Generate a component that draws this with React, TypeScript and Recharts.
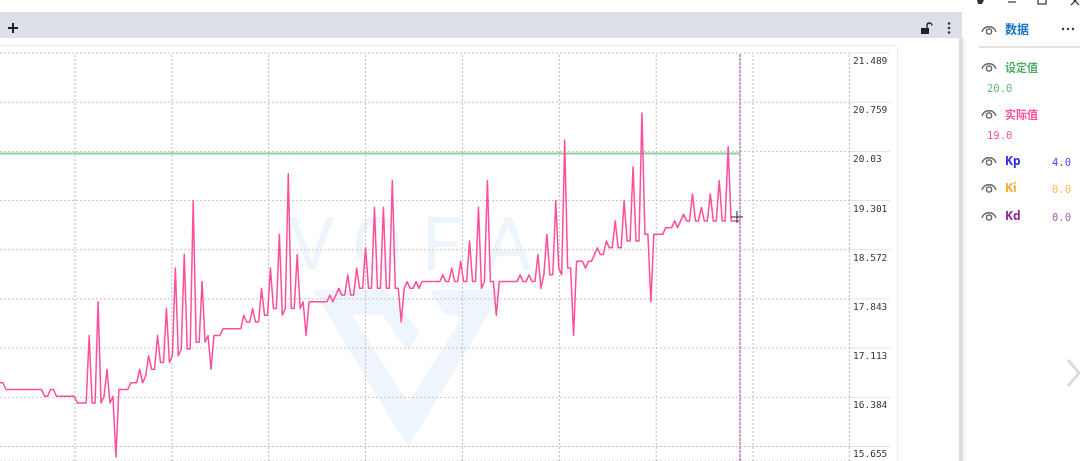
import { LineChart, Line, XAxis, YAxis, CartesianGrid, ReferenceLine } from 'recharts'

const actualValues = [
  16.6, 16.6, 16.5, 16.5, 16.5, 16.5, 16.5, 16.5, 16.5, 16.5, 16.5, 16.5, 16.5, 16.5, 16.5,
  16.4, 16.4, 16.5, 16.5, 16.4, 16.4, 16.4, 16.4, 16.4, 16.4, 16.4, 16.3, 16.3, 16.3, 16.3,
  17.3, 16.3, 16.3, 17.8, 16.3, 16.4, 16.8, 16.3, 16.4, 15.5,
  16.5, 16.5, 16.5, 16.5, 16.6, 16.6, 16.6,
  16.8, 16.6, 16.7, 17.0, 16.8, 16.8, 17.3, 16.9, 16.9, 17.7, 16.9, 17.0, 18.3, 17.0, 17.1,
  18.5, 17.1, 17.1, 19.3, 17.2, 17.2, 18.1, 17.2, 17.3, 16.8, 17.3, 17.3, 17.3,
  17.4, 17.4, 17.4, 17.4, 17.4, 17.4, 17.4,
  17.6, 17.5, 17.5, 17.7, 17.5, 17.5, 18.0, 17.6, 17.6, 18.3,
  17.7, 17.7, 18.8, 17.6, 17.7, 19.7, 17.7, 17.7, 18.5, 17.7, 17.8, 17.3, 17.8,
  17.8, 17.8, 17.8, 17.8, 17.8, 17.8,
  17.9, 17.8, 17.9, 18.0, 17.9, 17.9, 18.2, 17.9, 17.9, 18.3, 18.0, 18.0, 18.6, 18.0, 18.0,
  19.2, 18.0, 18.0, 19.2, 18.0, 18.0, 19.6, 18.0, 18.0, 17.5, 18.0, 18.1, 18.0, 18.0, 18.1, 18.0, 18.1,
  18.1, 18.1, 18.1, 18.1, 18.1, 18.1,
  18.2, 18.1, 18.1, 18.3, 18.1, 18.1, 18.4, 18.1, 18.1, 18.7, 18.1, 18.1, 19.2, 18.0, 18.1,
  19.6, 18.1, 18.1, 17.6, 18.1,
  18.1, 18.1, 18.1, 18.1, 18.1, 18.1,
  18.2, 18.1, 18.1, 18.2, 18.1, 18.1, 18.5, 18.0, 18.2, 18.8, 18.2, 18.2, 19.3, 18.3, 18.2,
  20.2, 18.3, 18.3, 17.3, 18.4, 18.4, 18.4, 18.3, 18.4, 18.4, 18.5, 18.6, 18.5, 18.5, 18.7,
  18.6, 18.6, 19.0, 18.6, 18.6, 19.3, 18.7, 18.7, 19.8, 18.7, 18.7, 20.6, 18.8, 18.8, 17.8,
  18.8, 18.8, 18.8, 18.8, 18.9, 18.9, 18.9, 19.0, 18.9, 19.0, 19.1, 19.0, 19.0, 19.4, 19.0,
  19.0, 19.2, 19.0, 19.0, 19.4, 19.0, 19.0, 19.6, 19.0, 19.0, 20.1, 19.0, 19.0, 19.0, 19.0,
]
const setpoint = 20
const yTicks = [21.489, 20.759, 20.03, 19.301, 18.572, 17.843, 17.113, 16.384, 15.655]
const yTickLabels = ['21.489', '20.759', '20.03', '19.301', '18.572', '17.843', '17.113', '16.384', '15.655']
const xTicks = [25.2, 57.8, 90.4, 123, 155.6, 188.2, 220.8, 253.4, 285.8]
const cursorIndex = 249

const data = actualValues.map((actual, i) => ({ i, actual, setpoint }))

const mono = '"DejaVu Sans Mono", monospace'
const cjk = '"Noto Sans CJK SC", "Noto Sans", sans-serif'

function YTick({ x, y, index }: any) {
  return (
    <g>
      <line x1={x} x2={x + 40} y1={y} y2={y} stroke="#e2e2e2" />
      <text x={x + 3} y={y + 11} fontFamily={mono} fontSize={9.5} fontWeight={500} fill="#333">
        {yTickLabels[index]}
      </text>
    </g>
  )
}

function Eye({ x, y }: { x: number; y: number }) {
  return (
    <svg style={{ position: 'absolute', left: x - 8, top: y - 6 }} width={16} height={12} viewBox="0 0 16 12">
      <path d="M1 8 C3 1 13 1 15 8" fill="none" stroke="#666" strokeWidth={1.3} />
      <circle cx={8} cy={7.5} r={2.6} fill="none" stroke="#666" strokeWidth={1.3} />
    </svg>
  )
}

function Label({ x, y, color, children, font = cjk, size = 12, weight = 700 }: any) {
  return (
    <div style={{ position: 'absolute', left: x, top: y, transform: 'translateY(-50%)', color, fontFamily: font, fontSize: size, fontWeight: weight, lineHeight: 1, whiteSpace: 'nowrap' }}>
      {children}
    </div>
  )
}

function Watermark() {
  const letters = [['V', 288], ['O', 352], ['F', 422], ['A', 484]] as const
  return (
    <svg style={{ position: 'absolute', left: 0, top: 0 }} width={898} height={461}>
      {letters.map(([c, x]) => (
        <text key={c} x={x} y={270} fontFamily="Roboto" fontWeight={400} fontSize={74} fill="#edf4fc">{c}</text>
      ))}
      <path
        d="M313 290 L386 290 L420 333 L408 352 L383 315 L352 315 L408 403 L462 318 L443 313 L430 290 L503 290 L408 447 Z"
        fill="#eff5fc"
      />
    </svg>
  )
}

export default function App() {
  return (
    <div style={{ position: 'relative', width: 1080, height: 461, overflow: 'hidden', background: '#fff', filter: 'blur(0.35px)' }}>
      <style>{'body{margin:0}'}</style>

      {/* toolbar */}
      <div style={{ position: 'absolute', left: 0, top: 12, width: 962, height: 26, background: '#dde0e6' }} />
      <svg style={{ position: 'absolute', left: 0, top: 12 }} width={962} height={26}>
        <path d="M13 11 V21 M8 16 H18" stroke="#222" strokeWidth={2} />
        <rect x={921} y={16} width={8} height={6} fill="#222" />
        <path d="M927 16 V13.5 a2.5 2.5 0 0 1 5 0" fill="none" stroke="#222" strokeWidth={1.3} />
        <circle cx={949} cy={11.5} r={1.3} fill="#333" />
        <circle cx={949} cy={16} r={1.3} fill="#333" />
        <circle cx={949} cy={20.5} r={1.3} fill="#333" />
      </svg>

      {/* card */}
      <div style={{ position: 'absolute', left: -10, top: 45, width: 908, height: 440, border: '1px solid #ececec', borderRadius: 4, boxSizing: 'border-box' }} />
      <Watermark />

      <div style={{ position: 'absolute', left: 0, top: 0 }}>
        <LineChart width={898} height={461} data={data} margin={{ top: 53, right: 0, bottom: 0, left: 0 }}>
          <CartesianGrid stroke="#c4c4c4" strokeDasharray="2 2" vertical={false} />
          <XAxis dataKey="i" type="number" domain={[0, 286]} ticks={xTicks} tick={false} axisLine={false} tickLine={false} height={0} />
          <YAxis
            orientation="right"
            width={48}
            type="number"
            domain={[15.44, 21.489]}
            ticks={yTicks}
            allowDataOverflow
            interval={0}
            axisLine={false}
            tickLine={false}
            tickSize={0}
            tickMargin={0}
            tick={<YTick />}
          />
          {xTicks.map((t) => (
            <ReferenceLine key={t} x={t} stroke="#bdbdbd" strokeDasharray="2 2" />
          ))}
          <ReferenceLine x={cursorIndex} stroke="#b77cc0" strokeWidth={1.5} strokeDasharray="3 1" />
          <Line dataKey="setpoint" type="linear" stroke="#8fd0a0" strokeWidth={2} dot={false} isAnimationActive={false} />
          <Line dataKey="actual" type="linear" stroke="#ff4f9c" strokeWidth={1.5} strokeLinejoin="round" dot={false} isAnimationActive={false} />
        </LineChart>
      </div>

      {/* mouse cross */}
      <svg style={{ position: 'absolute', left: 730, top: 210 }} width={14} height={14}>
        <path d="M7 1 V13 M1 7 H13" stroke="#222" strokeWidth={1} />
      </svg>

      {/* scrollbar */}
      <div style={{ position: 'absolute', left: 959, top: 38, width: 4, height: 423, background: '#dedede' }} />
      <div style={{ position: 'absolute', left: 963, top: 38, width: 3, height: 423, background: '#f6f6f6' }} />

      {/* window buttons */}
      <svg style={{ position: 'absolute', left: 970, top: 0 }} width={110} height={8}>
        <path d="M7 0 L14 0 L12 4 L8 4 Z" fill="#333" />
        <path d="M38 2 H46" stroke="#333" strokeWidth={1.2} />
        <rect x={68} y={-4} width={8} height={8} fill="none" stroke="#333" strokeWidth={1.2} />
        <path d="M101 -3 L109 5 M109 -3 L101 5" stroke="#333" strokeWidth={1.2} />
      </svg>

      {/* legend panel */}
      <Eye x={989} y={30} />
      <Label x={1005} y={29} color="#1976c8" size={12}>数据</Label>
      <svg style={{ position: 'absolute', left: 1060, top: 26 }} width={16} height={6}>
        <circle cx={3} cy={3} r={1.2} fill="#333" />
        <circle cx={8} cy={3} r={1.2} fill="#333" />
        <circle cx={13} cy={3} r={1.2} fill="#333" />
      </svg>
      <div style={{ position: 'absolute', left: 979, top: 46, width: 101, height: 1.5, background: '#e2e2e2' }} />

      <Eye x={989} y={67} />
      <Label x={1005} y={67} color="#4caf64" size={11}>设定值</Label>
      <Label x={987} y={88} color="#5cb874" font={mono} size={10.5} weight={400}>20.0</Label>

      <Eye x={989} y={114} />
      <Label x={1005} y={114} color="#ff4f9c" size={11}>实际值</Label>
      <Label x={987} y={135} color="#ff4f9c" font={mono} size={10.5} weight={400}>19.0</Label>

      <Eye x={989} y={161} />
      <Label x={1005} y={161} color="#2a2ae8" font="'Noto Sans'" size={12}>Kp</Label>
      <Label x={1052} y={162} color="#4a4af0" font={mono} size={10.5} weight={400}>4.0</Label>

      <Eye x={989} y={188} />
      <Label x={1005} y={188} color="#ffa726" font="'Noto Sans'" size={12}>Ki</Label>
      <Label x={1052} y={189} color="#ffb74d" font={mono} size={10.5} weight={400}>0.0</Label>

      <Eye x={989} y={216} />
      <Label x={1005} y={216} color="#8e2a90" font="'Noto Sans'" size={12}>Kd</Label>
      <Label x={1052} y={217} color="#a45aa8" font={mono} size={10.5} weight={400}>0.0</Label>

      {/* collapse arrow */}
      <svg style={{ position: 'absolute', left: 1060, top: 355 }} width={20} height={36}>
        <path d="M8 5 L19 18 L8 31" fill="none" stroke="#dcdcdc" strokeWidth={3} />
      </svg>
    </div>
  )
}
